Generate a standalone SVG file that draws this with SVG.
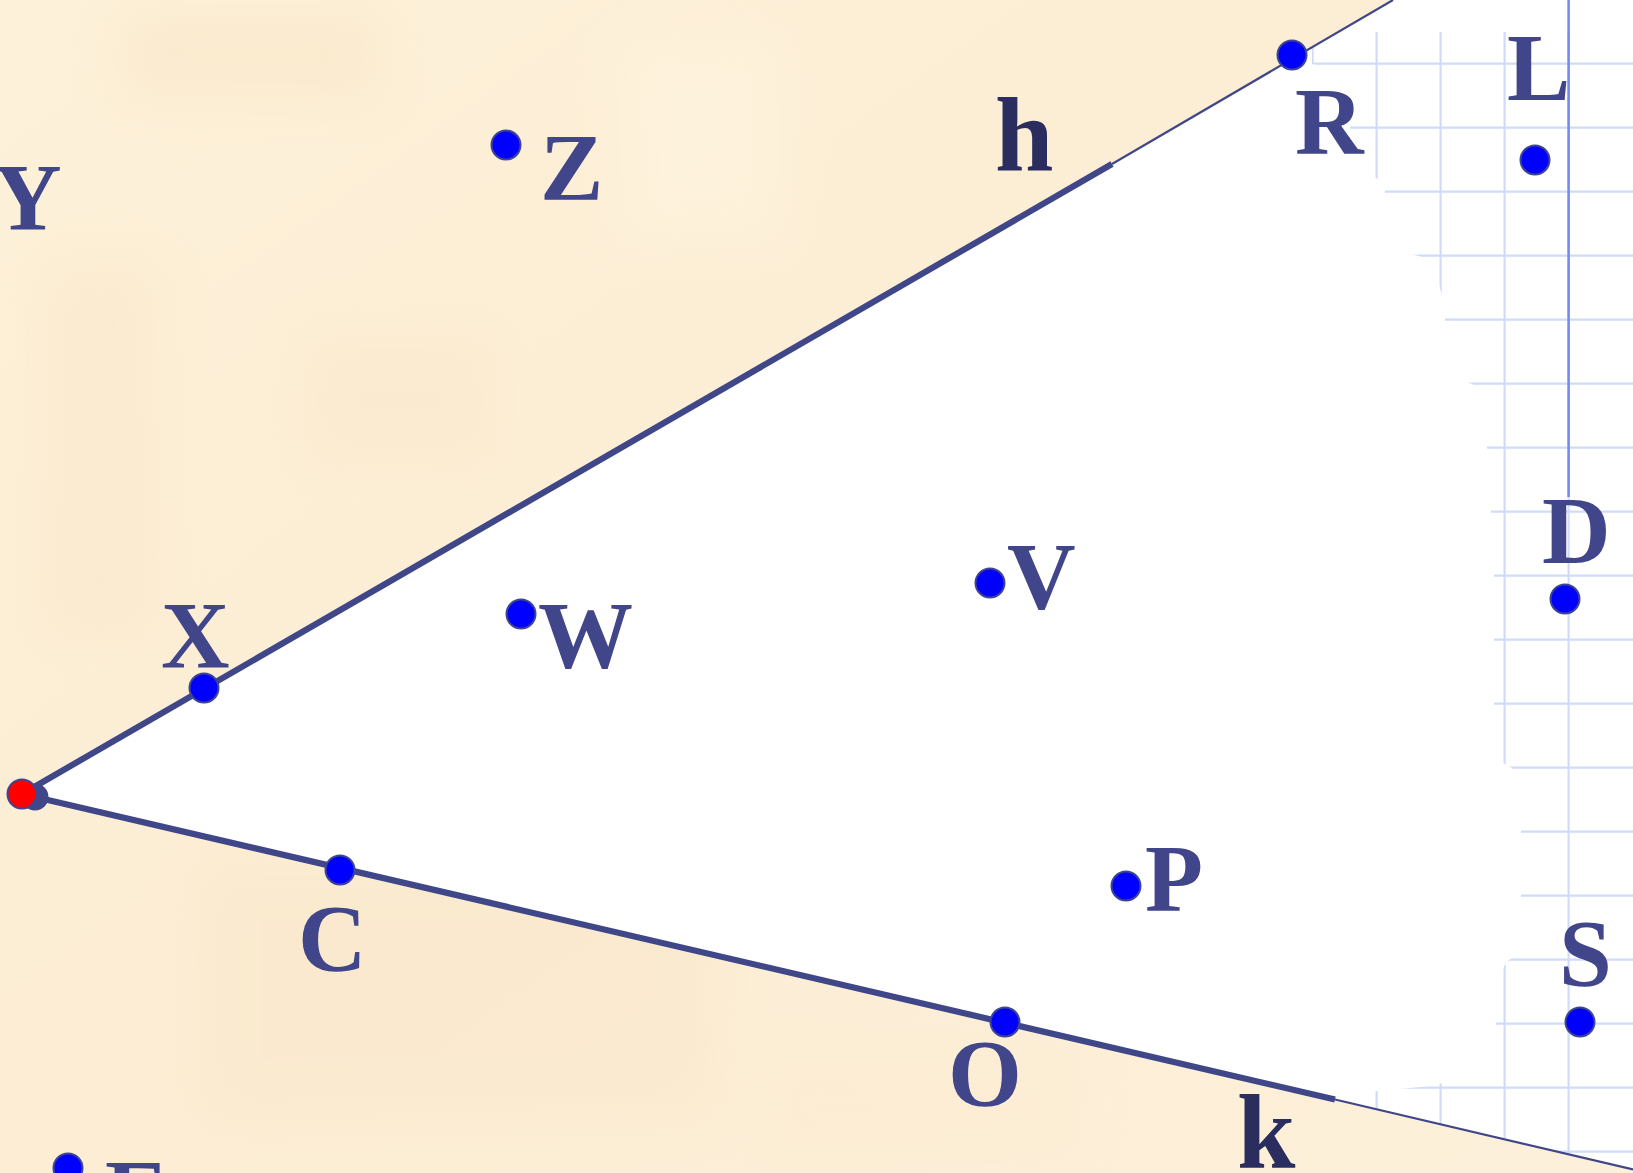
<svg xmlns="http://www.w3.org/2000/svg" width="1633" height="1173" viewBox="0 0 1633 1173">
<style>
.lbl{font-family:"Liberation Serif","Times New Roman",serif;font-weight:bold;font-size:95px;fill:#41468a}
.lbl2{font-family:"Liberation Serif","Times New Roman",serif;font-weight:bold;font-size:105px;fill:#2a2d5e}
.pt{fill:#0000ff;stroke:#3f4590;stroke-width:2}
.grid{stroke:#cfdbf8;stroke-width:2.2;fill:none}
.thick{stroke:#404789;stroke-width:6.2;fill:none}
.thin{stroke:#404789;stroke-width:2.2;fill:none}
</style>
<defs>
<linearGradient id="bg" x1="0" y1="0" x2="1" y2="1">
<stop offset="0" stop-color="#fdf1d9"/>
<stop offset="0.5" stop-color="#fcedd4"/>
<stop offset="1" stop-color="#fdf0da"/>
</linearGradient>
<filter id="blur" x="-20%" y="-20%" width="140%" height="140%"><feGaussianBlur stdDeviation="25"/></filter>
<clipPath id="wedge"><polygon points="22,794 1393,0 1633,0 1633,1169.4"/></clipPath>
<clipPath id="blob"><path d="M1312,32 L1633,32 L1633,1173 L1360,1173 L1360,1100 Q1362,1092 1380,1091 L1420,1087 Q1490,1080 1496,1024 L1500,985 Q1503,962 1509,960 Q1521,955 1521,930 L1521,835 Q1521,770 1510,767 Q1494,760 1494,740 L1494,575 L1491,511 L1487,447 Q1482,386 1472,384 Q1448,378 1445,320 Q1440,262 1419,256 Q1387,250 1385,192 Q1383,181 1376,178 Q1352,170 1350,128 Q1348,70 1312,64 Z"/></clipPath>
</defs>
<rect width="1633" height="1173" fill="url(#bg)"/>
<g filter="url(#blur)" opacity="0.45">
<rect x="120" y="10" width="260" height="90" fill="#f8e4c4"/>
<rect x="40" y="260" width="120" height="380" fill="#f9e6c8"/>
<rect x="300" y="330" width="200" height="140" fill="#f9e7ca"/>
<rect x="620" y="40" width="160" height="200" fill="#fff6e2"/>
<rect x="200" y="860" width="520" height="260" fill="#f8e6c8"/>
<rect x="760" y="1050" width="320" height="110" fill="#fbead0"/>
</g>
<polygon points="22,794 1393,0 1633,0 1633,1169.4" fill="#ffffff"/>
<g clip-path="url(#wedge)">
<g clip-path="url(#blob)" class="grid">
<line x1="1312.6" y1="0" x2="1312.6" y2="1173"/>
<line x1="1376.6" y1="0" x2="1376.6" y2="1173"/>
<line x1="1440.6" y1="0" x2="1440.6" y2="1173"/>
<line x1="1504.6" y1="0" x2="1504.6" y2="1173"/>
<line x1="1568.6" y1="0" x2="1568.6" y2="1173"/>
<line x1="1300" y1="63.7" x2="1633" y2="63.7"/>
<line x1="1300" y1="127.7" x2="1633" y2="127.7"/>
<line x1="1300" y1="191.7" x2="1633" y2="191.7"/>
<line x1="1300" y1="255.7" x2="1633" y2="255.7"/>
<line x1="1300" y1="319.7" x2="1633" y2="319.7"/>
<line x1="1300" y1="383.7" x2="1633" y2="383.7"/>
<line x1="1300" y1="447.7" x2="1633" y2="447.7"/>
<line x1="1300" y1="511.7" x2="1633" y2="511.7"/>
<line x1="1300" y1="575.7" x2="1633" y2="575.7"/>
<line x1="1300" y1="639.7" x2="1633" y2="639.7"/>
<line x1="1300" y1="703.7" x2="1633" y2="703.7"/>
<line x1="1300" y1="767.7" x2="1633" y2="767.7"/>
<line x1="1300" y1="831.7" x2="1633" y2="831.7"/>
<line x1="1300" y1="895.7" x2="1633" y2="895.7"/>
<line x1="1300" y1="959.7" x2="1633" y2="959.7"/>
<line x1="1300" y1="1023.7" x2="1633" y2="1023.7"/>
<line x1="1300" y1="1087.7" x2="1633" y2="1087.7"/>
<line x1="1300" y1="1151.7" x2="1633" y2="1151.7"/>
</g>
</g>
<line x1="1568.6" y1="0" x2="1568.6" y2="497" stroke="#7389ee" stroke-width="2.5"/>
<g id="connectors">
<line class="thick" x1="22" y1="794" x2="1112" y2="164"/>
<line class="thin" x1="1112" y1="164" x2="1393" y2="0"/>
<line class="thick" x1="22" y1="794" x2="1335" y2="1099.5"/>
<line class="thin" x1="1335" y1="1099.5" x2="1633" y2="1169.4"/>
<text class="lbl2" x="995" y="171">h</text>
<text class="lbl2" x="1237" y="1168">k</text>
</g>
<g id="node-vertex">
<circle cx="35" cy="797" r="13.5" fill="#404789"/>
<circle cx="22" cy="794" r="14.5" fill="#ff0000" stroke="#3f4590" stroke-width="2"/>
</g>
<g id="node-X"><circle class="pt" cx="204" cy="688" r="14.5"/><text class="lbl" x="161" y="668">X</text></g>
<g id="node-Y"><text class="lbl" x="-7" y="230">Y</text></g>
<g id="node-Z"><circle class="pt" cx="506" cy="145" r="14.5"/><text class="lbl" x="540" y="200">Z</text></g>
<g id="node-W"><circle class="pt" cx="521" cy="614" r="14.5"/><text class="lbl" x="538" y="668">W</text></g>
<g id="node-V"><circle class="pt" cx="990" cy="583" r="14.5"/><text class="lbl" x="1007" y="609">V</text></g>
<g id="node-C"><circle class="pt" cx="340" cy="870" r="14.5"/><text class="lbl" x="298" y="971">C</text></g>
<g id="node-O"><circle class="pt" cx="1005" cy="1022" r="14.5"/><text class="lbl" x="948" y="1106">O</text></g>
<g id="node-P"><circle class="pt" cx="1126" cy="886" r="14.5"/><text class="lbl" x="1145" y="911">P</text></g>
<g id="node-R"><circle class="pt" cx="1292" cy="55" r="14.5"/><text class="lbl" x="1295" y="154">R</text></g>
<g id="node-L"><circle class="pt" cx="1535" cy="160" r="14.5"/><text class="lbl" x="1507" y="100">L</text></g>
<g id="node-D"><circle class="pt" cx="1565" cy="599" r="14.5"/><text class="lbl" x="1542" y="563">D</text></g>
<g id="node-S"><circle class="pt" cx="1580" cy="1022" r="14.5"/><text class="lbl" x="1559" y="986">S</text></g>
<g id="node-E"><circle class="pt" cx="68" cy="1168" r="14.5"/><text class="lbl" x="105" y="1226">E</text></g>
</svg>
